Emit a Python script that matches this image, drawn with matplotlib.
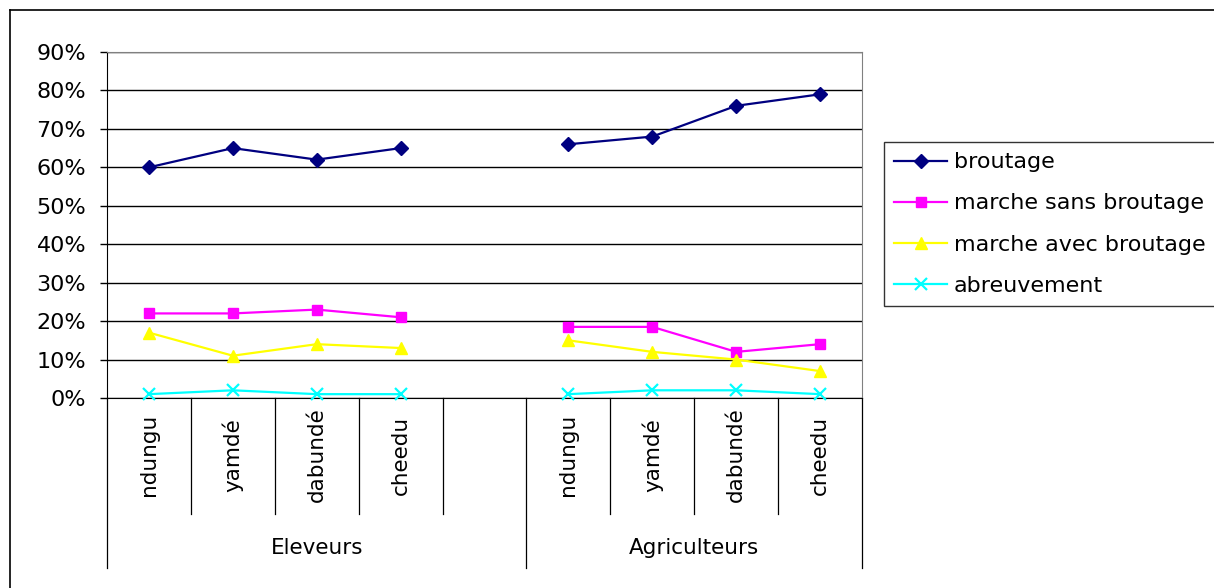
import numpy as np
import matplotlib
matplotlib.use("Agg")
import matplotlib.pyplot as plt
from matplotlib.ticker import PercentFormatter
from matplotlib.lines import Line2D

plt.rcParams['font.family'] = ['DejaVu Sans']

# categories: 4 sites per group, one empty slot between the two groups
groups = ["Eleveurs", "Agriculteurs"]
sites = ["ndungu", "yamdé", "dabundé", "cheedu"]

# values (fraction), Eleveurs then Agriculteurs
broutage_elev = [0.60, 0.65, 0.62, 0.65]
broutage_agri = [0.66, 0.68, 0.76, 0.79]
marche_sans_elev = [0.22, 0.22, 0.23, 0.21]
marche_sans_agri = [0.185, 0.185, 0.12, 0.14]
marche_avec_elev = [0.17, 0.11, 0.14, 0.13]
marche_avec_agri = [0.15, 0.12, 0.10, 0.07]
abreuv_elev = [0.01, 0.02, 0.01, 0.01]
abreuv_agri = [0.01, 0.02, 0.02, 0.01]

series = [
    ("broutage", broutage_elev, broutage_agri, "#000080", "D", 7),
    ("marche sans broutage", marche_sans_elev, marche_sans_agri, "#FF00FF", "s", 7),
    ("marche avec broutage", marche_avec_elev, marche_avec_agri, "#FFFF00", "^", 8),
    ("abreuvement", abreuv_elev, abreuv_agri, "#00FFFF", "x", 8),
]

labels = sites + [""] + sites
x = np.arange(len(labels))

fig = plt.figure(figsize=(12.14, 5.88), dpi=100)
ax = fig.add_axes([107 / 1214, 1 - 398 / 588, 755 / 1214, 346 / 588])

for name, ve, va, col, mk, ms in series:
    y = np.array(ve + [np.nan] + va)
    ax.plot(x, y, color=col, lw=1.6, marker=mk, ms=ms, mfc=col, mec=col,
            mew=1.6 if mk == "x" else 1, label=name, clip_on=False, zorder=3)

ax.set_xlim(-0.5, len(labels) - 0.5)
ax.set_ylim(0, 0.9)
ax.set_yticks(np.arange(0, 0.91, 0.1))
ax.yaxis.set_major_formatter(PercentFormatter(1.0, decimals=0))
ax.tick_params(axis='y', direction='out', length=5, width=1, labelsize=16, pad=10)
ax.yaxis.grid(True, color='black', lw=1)
ax.set_axisbelow(True)
ax.set_xticks([])
ax.spines['top'].set_color('#808080')
ax.spines['right'].set_color('#808080')
ax.spines['left'].set_color('black')
ax.spines['bottom'].set_color('black')

# multi-level category axis
tr = ax.get_xaxis_transform()
for k in range(len(labels) + 1):
    bx = k - 0.5
    long_line = k in (0, 5, len(labels))
    ax.plot([bx, bx], [0, -0.491 if long_line else -0.335], color='black',
            lw=0.9, transform=tr, clip_on=False)
for xi, lab in zip(x, labels):
    if lab:
        ax.text(xi, -0.165, lab, rotation=90, ha='center', va='center',
                fontsize=15.5, transform=tr)
ax.text(2, -0.434, groups[0], ha='center', va='center', fontsize=15.5, transform=tr)
ax.text(6.5, -0.434, groups[1], ha='center', va='center', fontsize=15.5, transform=tr)

# legend (box runs past the right edge like the original)
leg = fig.legend(loc='center left', bbox_to_anchor=(884 / 1214, 1 - 308 / 588, 0.3, 168 / 588),
                 mode='expand', fontsize=16, frameon=True, fancybox=False,
                 edgecolor='black', handlelength=2.4, handletextpad=0.3,
                 labelspacing=0.95, borderaxespad=0, borderpad=0.45)
leg.get_frame().set_linewidth(1)

# chart area border
fig.add_artist(Line2D([10 / 1214, 10 / 1214], [0, 1 - 10 / 588], color='black', lw=1.2))
fig.add_artist(Line2D([10 / 1214, 1], [1 - 10 / 588, 1 - 10 / 588], color='black', lw=1.2))

fig.savefig("out.png", dpi=100)
